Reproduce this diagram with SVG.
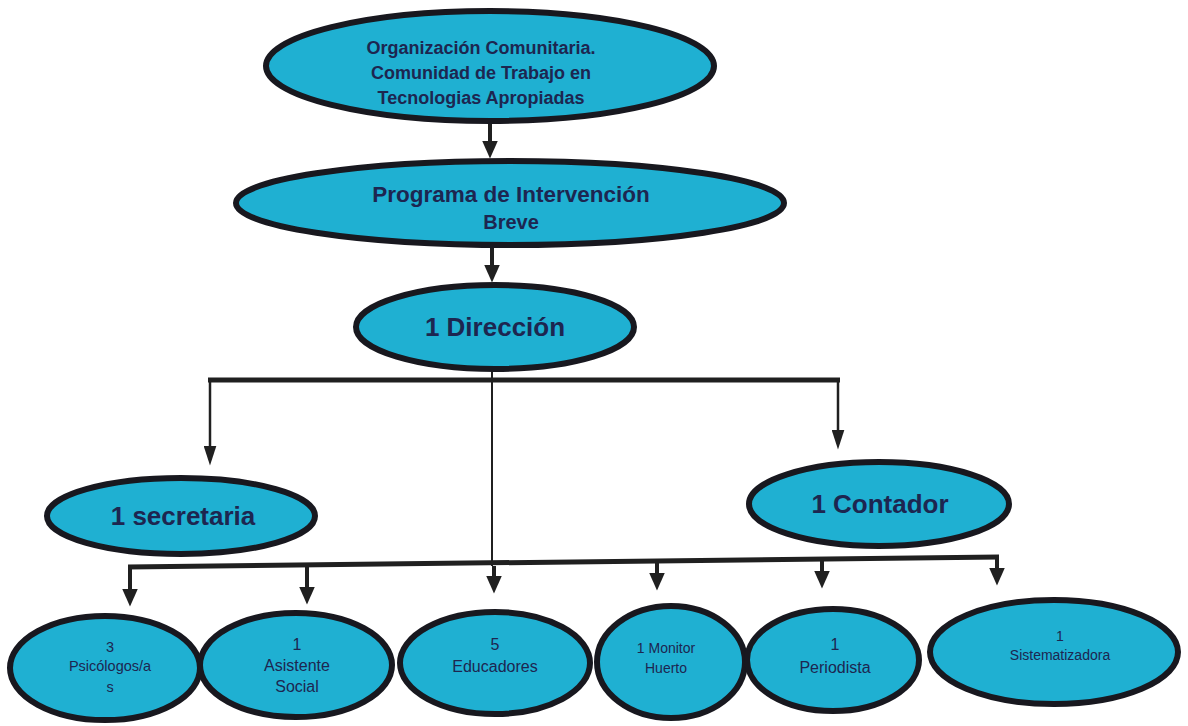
<svg xmlns="http://www.w3.org/2000/svg" width="1188" height="726" viewBox="0 0 1188 726">
<style>
.n{fill:#1fb0d2;stroke:#18181f;stroke-width:6}
.t{font-family:"Liberation Sans",Arial,sans-serif;fill:#1d2650;text-anchor:middle}
.b{font-weight:bold}
.c{stroke:#202020;fill:none}
</style>
<defs>
<marker id="ah" viewBox="0 0 18 16" refX="0.5" refY="8" markerWidth="18" markerHeight="16" orient="auto" markerUnits="userSpaceOnUse">
<path d="M0,0 L18,8 L0,16 z" fill="#202020"/>
</marker>
<marker id="ah2" viewBox="0 0 20 13" refX="0.5" refY="6.5" markerWidth="20" markerHeight="13" orient="auto" markerUnits="userSpaceOnUse">
<path d="M0,0 L20,6.5 L0,13 z" fill="#202020"/>
</marker>
</defs>
<rect width="1188" height="726" fill="#ffffff"/>
<g id="connectors">
<line class="c" x1="490" y1="124" x2="490" y2="141" stroke-width="4" marker-end="url(#ah)"/>
<line class="c" x1="492" y1="247" x2="492" y2="265" stroke-width="4" marker-end="url(#ah)"/>
<line class="c" x1="208" y1="380" x2="840" y2="380" stroke-width="5"/>
<line class="c" x1="210" y1="380" x2="210" y2="446" stroke-width="2.5" marker-end="url(#ah2)"/>
<line class="c" x1="838" y1="380" x2="838" y2="430" stroke-width="2.5" marker-end="url(#ah2)"/>
<line class="c" x1="492" y1="370" x2="492" y2="566" stroke-width="2"/>
<line class="c" x1="128" y1="567" x2="999" y2="557" stroke-width="5"/>
<line class="c" x1="130" y1="567" x2="130" y2="589" stroke-width="4" marker-end="url(#ah)"/>
<line class="c" x1="307" y1="565" x2="307" y2="587" stroke-width="4" marker-end="url(#ah)"/>
<line class="c" x1="494" y1="566" x2="494" y2="576" stroke-width="4" marker-end="url(#ah)"/>
<line class="c" x1="657" y1="562" x2="657" y2="573" stroke-width="4" marker-end="url(#ah)"/>
<line class="c" x1="822" y1="560" x2="822" y2="571" stroke-width="4" marker-end="url(#ah)"/>
<line class="c" x1="997" y1="558" x2="997" y2="568" stroke-width="4" marker-end="url(#ah)"/>
</g>
<g id="n-org">
<ellipse class="n" cx="490" cy="66" rx="224" ry="55"/>
<text class="t b" font-size="18" x="481" y="54">Organización Comunitaria.</text>
<text class="t b" font-size="18" x="481" y="79">Comunidad de Trabajo en</text>
<text class="t b" font-size="18" x="481" y="104">Tecnologias Apropiadas</text>
</g>
<g id="n-programa">
<ellipse class="n" cx="510" cy="203" rx="274" ry="42"/>
<text class="t b" font-size="22.5" x="511" y="202">Programa de Intervención</text>
<text class="t b" font-size="20" x="511" y="229">Breve</text>
</g>
<g id="n-direccion">
<ellipse class="n" cx="495" cy="327" rx="139" ry="42"/>
<text class="t b" font-size="26" x="495" y="336">1 Dirección</text>
</g>
<g id="n-secretaria">
<ellipse class="n" cx="181" cy="516" rx="134" ry="38"/>
<text class="t b" font-size="26" x="183" y="525">1 secretaria</text>
</g>
<g id="n-contador">
<ellipse class="n" cx="879" cy="504" rx="130" ry="42"/>
<text class="t b" font-size="26" x="880" y="513">1 Contador</text>
</g>
<g id="n-psicologos">
<ellipse class="n" cx="105" cy="668" rx="95" ry="52"/>
<text class="t" font-size="14.5" x="110" y="652">3</text>
<text class="t" font-size="14.5" x="110" y="671">Psicólogos/a</text>
<text class="t" font-size="14.5" x="110" y="692">s</text>
</g>
<g id="n-asistente">
<ellipse class="n" cx="296" cy="665" rx="96" ry="52"/>
<text class="t" font-size="16" x="297" y="650">1</text>
<text class="t" font-size="16" x="297" y="671">Asistente</text>
<text class="t" font-size="16" x="297" y="692">Social</text>
</g>
<g id="n-educadores">
<ellipse class="n" cx="495" cy="663" rx="95" ry="51"/>
<text class="t" font-size="16" x="495" y="650">5</text>
<text class="t" font-size="16" x="495" y="672">Educadores</text>
</g>
<g id="n-monitor">
<ellipse class="n" cx="671" cy="662" rx="74" ry="56"/>
<text class="t" font-size="14" x="666" y="653">1 Monitor</text>
<text class="t" font-size="14" x="666" y="673">Huerto</text>
</g>
<g id="n-periodista">
<ellipse class="n" cx="833" cy="660" rx="86" ry="51"/>
<text class="t" font-size="16" x="835" y="650">1</text>
<text class="t" font-size="16" x="835" y="673">Periodista</text>
</g>
<g id="n-sistematizadora">
<ellipse class="n" cx="1054" cy="652" rx="124" ry="52"/>
<text class="t" font-size="14" x="1060" y="641">1</text>
<text class="t" font-size="14" x="1060" y="660">Sistematizadora</text>
</g>
</svg>
